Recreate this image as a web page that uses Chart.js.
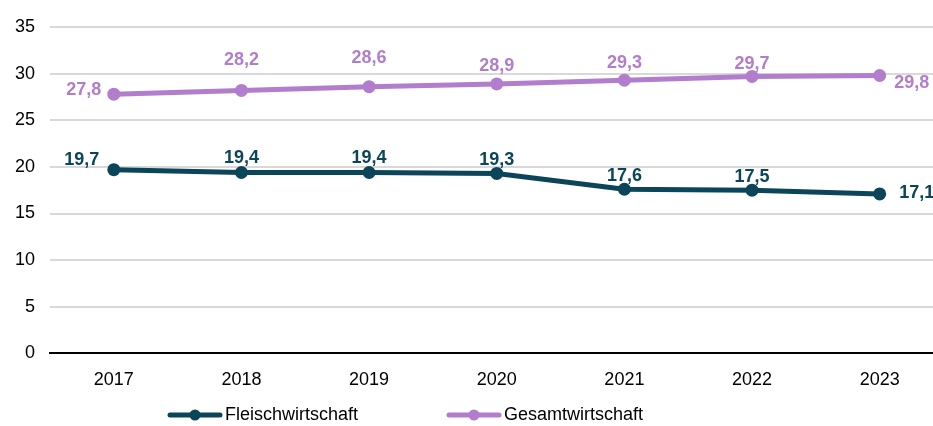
<!DOCTYPE html>
<html lang="de">
<head>
<meta charset="UTF-8">
<title>Fleischwirtschaft vs Gesamtwirtschaft</title>
<script src="https://cdn.jsdelivr.net/npm/chart.js"></script>
<style>
  html, body { margin: 0; padding: 0; background: #fff; overflow: hidden; }
  .wrap { position: relative; width: 950px; height: 426px; }
</style>
</head>
<body>
<div class="wrap"><canvas id="chart"></canvas></div>
<script>
  // data
  const years = ['2017', '2018', '2019', '2020', '2021', '2022', '2023'];
  const fleischwirtschaft = [19.7, 19.4, 19.4, 19.3, 17.6, 17.5, 17.1];
  const gesamtwirtschaft = [27.8, 28.2, 28.6, 28.9, 29.3, 29.7, 29.8];
  const yTicks = [0, 5, 10, 15, 20, 25, 30, 35];

  const TEAL = '#0b4559';
  const PURPLE = '#b27dcd';
  const FONT = "'Liberation Sans', Arial, sans-serif";

  // where each value label sits relative to its point (dx, dy)
  const labelPos = [
    [[-32, -10], [0, -14], [0, -14], [0, -13], [0, -13], [0, -13], [37, -1]],
    [[-30, -4], [0, -30], [0, -29], [0, -18], [0, -17], [0, -12], [32, 8]]
  ];

  const valueLabels = {
    id: 'valueLabels',
    afterDatasetsDraw(chart) {
      const ctx = chart.ctx;
      ctx.save();
      ctx.font = 'bold 18px ' + FONT;
      ctx.textAlign = 'center';
      ctx.textBaseline = 'middle';
      chart.data.datasets.forEach((ds, i) => {
        const meta = chart.getDatasetMeta(i);
        ctx.fillStyle = ds.borderColor;
        meta.data.forEach((pt, j) => {
          const [dx, dy] = labelPos[i][j];
          ctx.fillText(ds.data[j].toFixed(1).replace('.', ','), pt.x + dx, pt.y + dy);
        });
      });
      ctx.restore();
    }
  };

  const legendDraw = {
    id: 'legendDraw',
    afterDraw(chart) {
      const ctx = chart.ctx;
      const y = 415;
      const items = [[168, TEAL, 'Fleischwirtschaft'], [447, PURPLE, 'Gesamtwirtschaft']];
      ctx.save();
      items.forEach(([x, col, txt]) => {
        ctx.strokeStyle = col;
        ctx.lineWidth = 5;
        ctx.lineCap = 'round';
        ctx.beginPath();
        ctx.moveTo(x + 2, y);
        ctx.lineTo(x + 52, y);
        ctx.stroke();
        ctx.fillStyle = col;
        ctx.beginPath();
        ctx.arc(x + 27, y, 5.5, 0, Math.PI * 2);
        ctx.fill();
        ctx.fillStyle = '#000';
        ctx.font = '18px ' + FONT;
        ctx.textBaseline = 'middle';
        ctx.fillText(txt, x + 57, y);
      });
      ctx.restore();
    }
  };

  new Chart(document.getElementById('chart'), {
    type: 'line',
    data: {
      labels: years,
      datasets: [
        {
          label: 'Fleischwirtschaft',
          data: fleischwirtschaft,
          borderColor: TEAL,
          backgroundColor: TEAL,
          borderWidth: 5,
          pointRadius: 6.5,
          pointHoverRadius: 6.5,
          pointBorderWidth: 0,
          tension: 0
        },
        {
          label: 'Gesamtwirtschaft',
          data: gesamtwirtschaft,
          borderColor: PURPLE,
          backgroundColor: PURPLE,
          borderWidth: 5,
          pointRadius: 6.5,
          pointHoverRadius: 6.5,
          pointBorderWidth: 0,
          tension: 0
        }
      ]
    },
    options: {
      responsive: true,
      maintainAspectRatio: false,
      animation: false,
      layout: { padding: { top: 27, bottom: 19, left: 0, right: 2 } },
      plugins: {
        legend: { display: false },
        tooltip: { enabled: false }
      },
      scales: {
        x: {
          offset: true,
          grid: { display: false, drawTicks: false },
          border: { display: true, color: '#000', width: 2 },
          ticks: { color: '#000', font: { family: FONT, size: 18 }, padding: 16, maxRotation: 0 }
        },
        y: {
          min: 0,
          max: 35,
          afterFit(scale) { scale.width = 50; },
          afterBuildTicks(scale) { scale.ticks = yTicks.map(v => ({ value: v })); },
          grid: {
            color: ctx => ctx.tick && ctx.tick.value === 0 ? 'rgba(0,0,0,0)' : '#d9d9d9',
            lineWidth: 2,
            drawTicks: false
          },
          border: { display: false },
          ticks: { color: '#000', font: { family: FONT, size: 18 }, padding: 15 }
        }
      }
    },
    plugins: [valueLabels, legendDraw]
  });
</script>
</body>
</html>
